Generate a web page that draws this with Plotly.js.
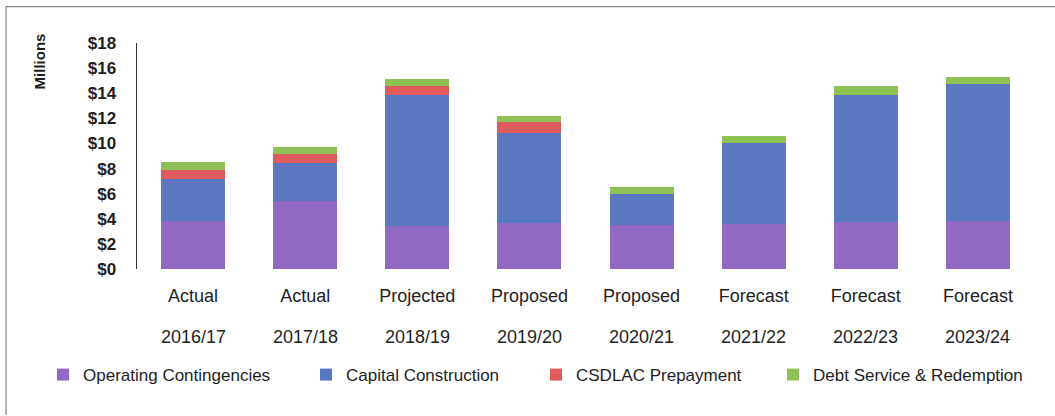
<!DOCTYPE html>
<html>
<head>
<meta charset="utf-8">
<script src="https://cdn.plot.ly/plotly-3.0.1.min.js"></script>
<style>html,body{margin:0;padding:0;background:#fff;}#chart{width:1055px;height:416px;}</style>
</head>
<body>
<div id="chart"></div>
<script>
const years = ["2016/17","2017/18","2018/19","2019/20","2020/21","2021/22","2022/23","2023/24"];
const statuses = ["Actual","Actual","Projected","Proposed","Proposed","Forecast","Forecast","Forecast"];
const operating = [3.85, 5.38, 3.40, 3.64, 3.50, 3.61, 3.74, 3.79];
const capital = [3.30, 3.10, 10.47, 7.22, 2.44, 6.40, 10.13, 10.91];
const csdlac = [0.76, 0.66, 0.72, 0.82, 0, 0, 0, 0];
const debt = [0.58, 0.60, 0.53, 0.50, 0.61, 0.60, 0.69, 0.60];
const seriesNames = ["Operating Contingencies","Capital Construction","CSDLAC Prepayment","Debt Service & Redemption"];
const seriesColors = ["#9069c4","#5a78c2","#e05c5c","#8dc153"];
const seriesValues = [operating, capital, csdlac, debt];
const legendIds = ["legend","legend2","legend3","legend4"];
const legendX = [43, 306, 536, 773];

const FONT = "Liberation Sans, Arial, sans-serif";
const L = 137, R = 21, T = 42.5, B = 146.5;
const PW = 1055 - L - R, PH = 416 - T - B;

const traces = seriesValues.map((v, i) => ({
  type: "bar", x: years, y: v, name: seriesNames[i],
  marker: {color: seriesColors[i], line: {width: 0}},
  legend: legendIds[i], hoverinfo: "skip"
}));

const layout = {
  width: 1055, height: 416,
  margin: {l: L, r: R, t: T, b: B, pad: 0},
  paper_bgcolor: "#fff", plot_bgcolor: "#fff",
  barmode: "stack", bargap: 0.43,
  font: {family: FONT, color: "#1e1e1e", size: 17},
  xaxis: {
    type: "category", tickvals: years, ticktext: statuses,
    showline: false, showgrid: false, zeroline: false, ticks: "",
    ticklabelstandoff: 14,
    tickfont: {family: FONT, size: 18, color: "#1e1e1e"},
    fixedrange: true
  },
  yaxis: {
    range: [0, 18], dtick: 2, tickprefix: "$",
    showgrid: false, zeroline: false, showline: true,
    linecolor: "#333", linewidth: 1.5, ticks: "",
    ticklabelstandoff: 16,
    tickfont: {family: FONT, size: 17, color: "#1e1e1e", weight: "bold"},
    fixedrange: true
  },
  annotations: years.map(y => ({
    x: y, xref: "x", y: (T + PH - 337.5) / PH, yref: "paper",
    text: y, showarrow: false, xanchor: "center", yanchor: "middle",
    font: {family: FONT, size: 18, color: "#1e1e1e"}
  })).concat([{
    x: (39 - L) / PW, xref: "paper", y: (T + PH - 61) / PH, yref: "paper",
    text: "Millions", textangle: -90, showarrow: false,
    xanchor: "center", yanchor: "middle",
    font: {family: FONT, size: 15, color: "#1e1e1e", weight: "bold"}
  }]),
  shapes: [
    {type: "line", xref: "paper", yref: "paper", x0: (6 - L) / PW, x1: (1055 - L) / PW, y0: (T + PH - 6) / PH, y1: (T + PH - 6) / PH, line: {color: "#666", width: 1}},
    {type: "line", xref: "paper", yref: "paper", x0: (6 - L) / PW, x1: (6 - L) / PW, y0: (T + PH - 6) / PH, y1: (T + PH - 416) / PH, line: {color: "#666", width: 1}}
  ],
  showlegend: true
};

legendIds.forEach((id, i) => {
  layout[id] = {
    x: (legendX[i] - L) / PW, xanchor: "left",
    y: (T + PH - 376) / PH, yanchor: "middle",
    orientation: "h", bgcolor: "rgba(0,0,0,0)", borderwidth: 0,
    font: {family: FONT, size: 17, color: "#1e1e1e"},
    itemclick: false, itemdoubleclick: false
  };
});

Plotly.newPlot("chart", traces, layout, {displayModeBar: false, staticPlot: true});
</script>
</body>
</html>
